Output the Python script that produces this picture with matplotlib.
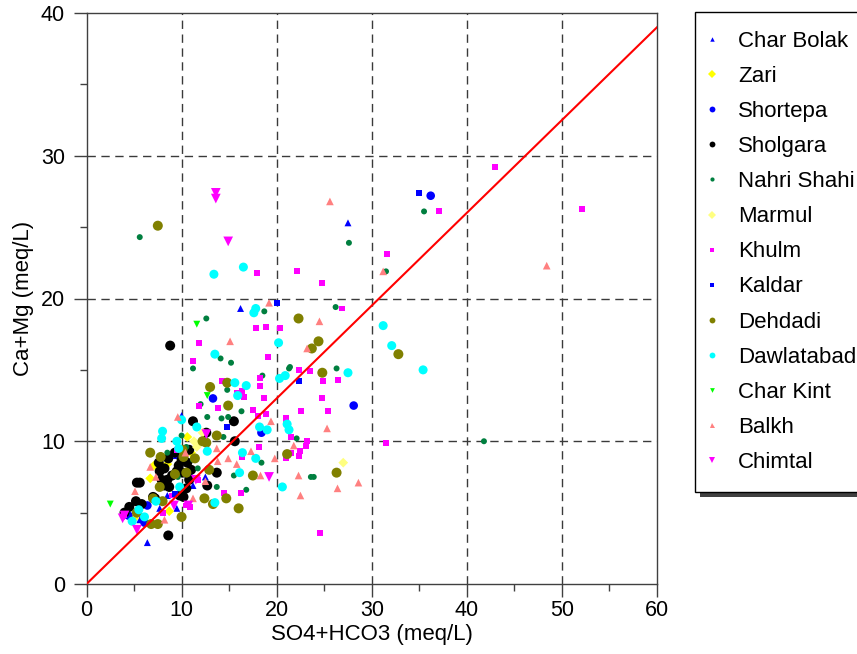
import matplotlib
matplotlib.use('Agg')
import matplotlib.pyplot as plt
from matplotlib.patches import Rectangle
from matplotlib.lines import Line2D
from matplotlib.ticker import MultipleLocator

plt.rcParams['font.family'] = ['Liberation Sans', 'DejaVu Sans']

# ---------------- data ----------------
char_bolak_x = [27.5, 16.2, 10.0, 6.4, 9.5, 7.7, 8.5, 11.2, 9.4, 5.6, 12.5]
char_bolak_y = [25.3, 19.3, 11.8, 2.9, 5.3, 5.3, 6.2, 6.9, 9.0, 4.5, 7.5]

zari_x = [10.6, 7.1, 8.5, 6.7, 8.7, 5.0, 11.0]
zari_y = [10.3, 8.3, 8.4, 7.4, 5.1, 4.6, 9.2]

shortepa_x = [36.2, 28.1, 13.3, 18.4, 6.4, 4.4, 6.1, 7.2, 10.7]
shortepa_y = [27.2, 12.5, 13.0, 10.6, 5.5, 4.8, 4.3, 5.9, 7.6]

sholgara_x = [8.8, 11.2, 12.6, 15.5, 15.6, 10.8, 7.6, 8.6, 9.7, 10.6, 10.0, 13.7, 12.7,
              8.5, 8.2, 8.7, 7.9, 5.6, 5.3, 7.0, 5.8, 5.2, 4.5, 9.8, 10.2, 8.6, 10.5,
              7.2, 10.8, 10.1, 9.5, 8.2, 9.0, 11.0, 9.3, 7.7, 4.0]
sholgara_y = [16.7, 11.4, 10.6, 11.4, 10.0, 9.4, 8.5, 8.8, 8.3, 8.5, 8.7, 7.8, 6.9,
              7.3, 6.9, 6.8, 7.3, 7.1, 7.1, 6.1, 5.6, 5.8, 5.4, 6.2, 6.1, 3.4, 6.7,
              6.0, 7.3, 7.8, 7.9, 8.1, 7.6, 8.0, 9.2, 7.9, 5.0]

nahri_shahi_x = [5.6, 35.5, 27.6, 31.5, 41.8, 26.2, 21.4, 26.3, 21.0, 22.1, 23.6, 23.9,
                 12.6, 18.7, 14.1, 15.2, 11.2, 18.5, 21.3, 14.8, 12.0, 12.7, 14.2, 14.9,
                 16.3, 14.4, 18.4, 15.5, 13.7, 16.8, 10.0, 8.5, 11.2, 11.7, 10.5, 9.6]
nahri_shahi_y = [24.3, 26.1, 23.9, 21.9, 10.0, 19.4, 15.2, 15.1, 11.3, 10.2, 7.5, 7.5,
                 18.6, 19.1, 15.8, 15.5, 15.1, 14.6, 15.1, 13.6, 12.6, 11.7, 11.6, 11.7,
                 12.1, 10.3, 8.5, 7.6, 6.8, 6.6, 10.4, 9.2, 8.7, 8.1, 9.6, 7.5]

marmul_x = [11.3, 12.2, 27.0, 11.6]
marmul_y = [10.0, 10.6, 8.5, 9.6]

khulm_x = [43.0, 52.1, 37.1, 31.6, 22.1, 17.9, 24.8, 26.9, 17.8, 18.9, 20.3, 11.8, 11.2,
           19.1, 14.3, 18.2, 18.2, 16.4, 16.6, 18.7, 22.3, 23.5, 24.9, 26.5, 24.8, 22.6,
           25.4, 21.0, 21.5, 23.2, 23.1, 22.5, 21.5, 21.0, 31.5, 13.8, 18.0, 18.9, 18.1,
           16.4, 22.3, 15.8, 17.5, 11.8, 14.5, 16.3, 9.5, 10.5, 10.9, 3.9, 11.7, 24.6,
           9.0, 8.0]
khulm_y = [29.2, 26.3, 26.1, 23.1, 21.9, 21.8, 21.1, 19.3, 17.9, 18.0, 17.9, 16.9, 15.6,
           15.9, 14.2, 14.4, 13.9, 13.5, 13.1, 13.0, 15.0, 14.9, 14.2, 14.3, 13.0, 12.1,
           12.1, 11.6, 10.3, 10.0, 9.7, 9.3, 9.2, 8.8, 9.9, 12.3, 11.8, 11.9, 9.6,
           8.9, 9.0, 13.4, 12.2, 12.5, 6.4, 6.4, 9.4, 5.5, 5.4, 4.8, 7.3, 3.6,
           6.2, 5.0]

kaldar_x = [35.0, 20.0, 22.3, 14.8, 7.4, 9.3]
kaldar_y = [27.4, 19.7, 14.2, 11.0, 4.2, 6.3]

dehdadi_x = [7.5, 22.3, 24.4, 23.7, 24.8, 32.8, 14.8, 26.3, 21.1, 6.7, 7.8, 12.2, 13.7,
             14.9, 12.9, 11.4, 10.5, 9.3, 7.7, 8.0, 7.0, 12.4, 13.3, 14.7, 16.0, 17.5,
             10.0, 6.8, 7.5, 5.3, 10.1, 10.2, 12.6, 13.0]
dehdadi_y = [25.1, 18.6, 17.0, 16.5, 14.8, 16.1, 14.1, 7.8, 9.1, 9.2, 8.9, 10.0, 10.4,
             12.5, 8.0, 8.8, 7.8, 7.7, 6.8, 5.8, 6.0, 6.0, 5.6, 6.0, 5.3, 7.6,
             4.7, 4.2, 4.2, 5.0, 9.4, 8.9, 9.9, 13.8]

dawlatabad_x = [13.4, 16.5, 17.8, 31.2, 32.1, 35.4, 20.2, 13.5, 15.6, 16.8, 15.9, 20.3,
                20.9, 27.5, 21.1, 21.3, 20.6, 10.0, 8.0, 7.9, 9.5, 11.6, 16.4, 17.8,
                18.2, 16.1, 13.5, 4.8, 6.1, 7.3, 9.8, 9.7, 12.7, 19.0, 17.6, 5.5]
dawlatabad_y = [21.7, 22.2, 19.3, 18.1, 16.7, 15.0, 16.9, 16.1, 14.1, 13.9, 13.2, 14.4,
                14.6, 14.8, 11.2, 10.8, 6.8, 11.5, 10.7, 10.2, 10.0, 11.0, 9.2, 8.8,
                11.0, 7.8, 5.7, 4.4, 4.7, 5.8, 6.8, 9.5, 9.3, 10.8, 19.0, 5.2]

char_kint_x = [11.6, 12.7, 2.5]
char_kint_y = [18.2, 13.2, 5.6]

balkh_x = [25.6, 48.4, 31.2, 19.2, 24.5, 15.1, 23.2, 25.3, 21.8, 22.3, 26.4, 22.5, 28.6,
           19.4, 13.7, 17.3, 14.9, 18.3, 15.8, 19.8, 5.1, 6.7, 8.2, 9.6, 12.5, 13.8,
           11.2, 10.4, 7.3]
balkh_y = [26.8, 22.3, 21.9, 19.7, 18.4, 17.0, 16.5, 10.9, 9.7, 7.6, 6.7, 6.2, 7.1,
           11.4, 9.5, 9.3, 8.8, 7.6, 8.4, 8.8, 6.5, 8.2, 4.5, 11.7, 7.2, 8.6,
           6.0, 9.2, 7.5]

chimtal_x = [13.6, 13.6, 14.9, 19.2, 11.5, 4.0, 5.3, 10.7, 3.8, 9.2, 12.6]
chimtal_y = [27.4, 27.0, 24.0, 7.5, 7.3, 4.8, 3.8, 5.5, 4.6, 5.5, 10.5]

line_x = [0, 60]
line_y = [0, 39]

series_names = ['Char Bolak', 'Zari', 'Shortepa', 'Sholgara', 'Nahri Shahi', 'Marmul',
                'Khulm', 'Kaldar', 'Dehdadi', 'Dawlatabad', 'Char Kint', 'Balkh', 'Chimtal']
series_x = [char_bolak_x, zari_x, shortepa_x, sholgara_x, nahri_shahi_x, marmul_x,
            khulm_x, kaldar_x, dehdadi_x, dawlatabad_x, char_kint_x, balkh_x, chimtal_x]
series_y = [char_bolak_y, zari_y, shortepa_y, sholgara_y, nahri_shahi_y, marmul_y,
            khulm_y, kaldar_y, dehdadi_y, dawlatabad_y, char_kint_y, balkh_y, chimtal_y]

x_ticks = [0, 10, 20, 30, 40, 50, 60]
y_ticks = [0, 10, 20, 30, 40]

# ---------------- styles ----------------
styles = {
    'Char Bolak': ('^', '#0000ff', 5.0, 3.2),
    'Zari': ('D', '#ffff00', 5.0, 3.6),
    'Shortepa': ('o', '#0000ff', 6.2, 4.2),
    'Sholgara': ('o', '#000000', 7.2, 4.2),
    'Nahri Shahi': ('o', '#007f3f', 4.3, 3.0),
    'Marmul': ('D', '#ffff80', 5.0, 3.6),
    'Khulm': ('s', '#ff00ff', 4.3, 3.4),
    'Kaldar': ('s', '#0000ff', 4.3, 3.4),
    'Dehdadi': ('o', '#808000', 7.2, 4.2),
    'Dawlatabad': ('o', '#00ffff', 6.5, 4.2),
    'Char Kint': ('v', '#00ff00', 5.0, 3.4),
    'Balkh': ('^', '#ff8080', 5.5, 3.6),
    'Chimtal': ('v', '#ff00ff', 7.0, 4.4),
}

W, H = 857, 654
fig = plt.figure(figsize=(W / 100, H / 100), dpi=100)
ax = fig.add_axes([86.5 / W, (H - 584) / H, (657 - 86.5) / W, (584 - 13) / H])

ax.set_xlim(0, 60)
ax.set_ylim(0, 40)

grid_col = '#3a3a3a'
for gx in x_ticks[1:-1]:
    ax.axvline(gx, color=grid_col, lw=1.0, ls=(0, (6, 4)), zorder=1)
for gy in y_ticks[1:-1]:
    ax.axhline(gy, color=grid_col, lw=1.0, ls=(0, (6, 4)), zorder=1)

handles = []
for name, xs, ys in zip(series_names, series_x, series_y):
    m, c, ms, lms = styles[name]
    ax.scatter(xs, ys, marker=m, s=ms ** 2, c=c, edgecolors='none', zorder=3)
    handles.append(Line2D([], [], marker=m, color=c, ls='none', markersize=lms,
                          markeredgewidth=0))

ax.plot(line_x, line_y, color='#ff0000', lw=1.5, zorder=4)

ax.set_xticks(x_ticks)
ax.set_yticks(y_ticks)
ax.xaxis.set_minor_locator(MultipleLocator(5))
ax.yaxis.set_minor_locator(MultipleLocator(5))
ax.tick_params(which='major', direction='out', length=9.5, width=1.0, color='#404040',
               labelsize=15.5, pad=2)
ax.tick_params(axis='y', which='major', pad=6)
ax.tick_params(which='minor', direction='out', length=5, width=1.0, color='#404040')
for sp in ax.spines.values():
    sp.set_color('#404040')
    sp.set_linewidth(1.0)

ax.set_xlabel('SO4+HCO3 (meq/L)', fontsize=16, labelpad=2)
ax.set_ylabel('Ca+Mg (meq/L)', fontsize=16, labelpad=5)

# legend frame with shadow (figure pixel coords)
lx0, ly_top, lx1, ly_bot = 695, 12, 875, 492
fig.patches.append(Rectangle(((lx0 + 5) / W, (H - ly_bot - 5) / H), (lx1 - lx0) / W,
                             (ly_bot - ly_top) / H, transform=fig.transFigure,
                             facecolor='#404040', edgecolor='none', zorder=0))
fig.patches.append(Rectangle((lx0 / W, (H - ly_bot) / H), (lx1 - lx0) / W,
                             (ly_bot - ly_top) / H, transform=fig.transFigure,
                             facecolor='white', edgecolor='black', lw=1.0, zorder=1))

fig.legend(handles, series_names, loc='upper left',
           bbox_to_anchor=(700.9 / W, 1 - 31 / H), frameon=False, fontsize=16,
           handlelength=1.0, handletextpad=0.67, labelspacing=0.633, borderpad=0,
           borderaxespad=0)

fig.savefig('out.png', dpi=100)
